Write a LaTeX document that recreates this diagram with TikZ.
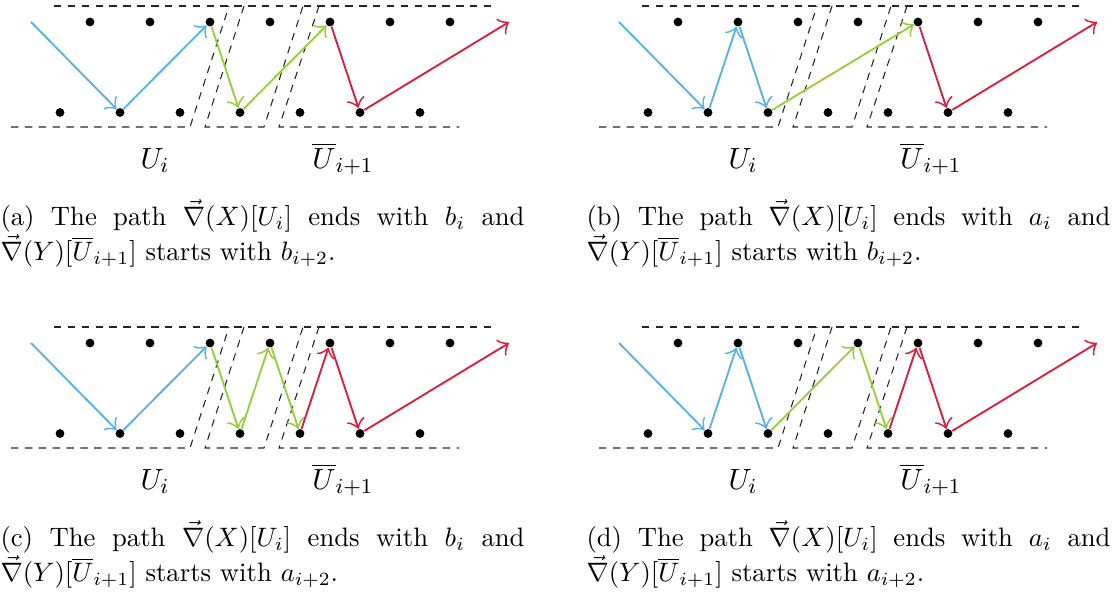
\documentclass[tikz,border=0pt]{standalone}
\usetikzlibrary{arrows.meta}
\definecolor{pblue}{RGB}{86,178,232}
\definecolor{pgreen}{RGB}{150,206,60}
\definecolor{pred}{RGB}{218,30,60}
\tikzset{
  ptdot/.style={circle,fill=black,draw=none,inner sep=0pt,minimum size=3.3pt},
  framedash/.style={line width=0.4pt,black!85,dash pattern=on 2.8pt off 2.4pt},
  arr/.style={line width=0.7pt,-{Classical TikZ Rightarrow[scale=1.5]}},
  lbl/.style={anchor=base,inner sep=0pt,font=\fontsize{11}{13}\selectfont},
  captext/.style={anchor=base west,inner sep=0pt,text width=196.5pt,align=justify,font=\fontsize{10}{12}\selectfont},
}
\newcommand\drawpanel[1]{%
  \draw[framedash] (54,6) -- (495,6);
  \draw[framedash] (11,127) -- (190,127) -- (229,6);
  \draw[framedash] (244,6) -- (205,127) -- (264,127) -- (303,6);
  \draw[framedash] (319,6) -- (279,127) -- (459,127);
  \foreach \k in {0,...,6} {
    \node[ptdot] (#1-t\k) at (90+60*\k,22) {};
    \node[ptdot] (#1-b\k) at (60+60*\k,112.5) {};
  }
  \coordinate (#1-s) at (31,22);
  \coordinate (#1-e) at (509,22);
  \node[lbl] (#1-u) at (155,168) {$U_i$};
  \node[lbl] (#1-ubar) at (343,168) {$\overline{U}_{i+1}$};
}
\begin{document}
\begin{tikzpicture}[x=0.375pt,y=-0.375pt]
\useasboundingbox (0,0) rectangle (1115,594);
% (a)
\begin{scope}
  \drawpanel{a}
  \draw[arr,pblue] (a-s) -- (a-b1);
  \draw[arr,pblue] (a-b1) -- (a-t2);
  \draw[arr,pgreen] (a-t2) -- (a-b3);
  \draw[arr,pgreen] (a-b3) -- (a-t4);
  \draw[arr,pred] (a-t4) -- (a-b5);
  \draw[arr,pred] (a-b5) -- (a-e);
  \node[captext] (a-cap) at (0,225) {\noindent(a) The path $\vec{\nabla}(X)[U_i]$ ends with $b_i$ and\linebreak $\vec{\nabla}(Y)[\overline{U}_{i+1}]$ starts with $b_{i+2}$.};
\end{scope}
% (b)
\begin{scope}[shift={(588,0)}]
  \drawpanel{b}
  \draw[arr,pblue] (b-s) -- (b-b1);
  \draw[arr,pblue] (b-b1) -- (b-t1);
  \draw[arr,pblue] (b-t1) -- (b-b2);
  \draw[arr,pgreen] (b-b2) -- (b-t4);
  \draw[arr,pred] (b-t4) -- (b-b5);
  \draw[arr,pred] (b-b5) -- (b-e);
  \node[captext] (b-cap) at (-2,225) {\noindent(b) The path $\vec{\nabla}(X)[U_i]$ ends with $a_i$ and\linebreak $\vec{\nabla}(Y)[\overline{U}_{i+1}]$ starts with $b_{i+2}$.};
\end{scope}
% (c)
\begin{scope}[shift={(0,321)}]
  \drawpanel{c}
  \draw[arr,pblue] (c-s) -- (c-b1);
  \draw[arr,pblue] (c-b1) -- (c-t2);
  \draw[arr,pgreen] (c-t2) -- (c-b3);
  \draw[arr,pgreen] (c-b3) -- (c-t3);
  \draw[arr,pgreen] (c-t3) -- (c-b4);
  \draw[arr,pred] (c-b4) -- (c-t4);
  \draw[arr,pred] (c-t4) -- (c-b5);
  \draw[arr,pred] (c-b5) -- (c-e);
  \node[captext] (c-cap) at (0,225) {\noindent(c) The path $\vec{\nabla}(X)[U_i]$ ends with $b_i$ and\linebreak $\vec{\nabla}(Y)[\overline{U}_{i+1}]$ starts with $a_{i+2}$.};
\end{scope}
% (d)
\begin{scope}[shift={(588,321)}]
  \drawpanel{d}
  \draw[arr,pblue] (d-s) -- (d-b1);
  \draw[arr,pblue] (d-b1) -- (d-t1);
  \draw[arr,pblue] (d-t1) -- (d-b2);
  \draw[arr,pgreen] (d-b2) -- (d-t3);
  \draw[arr,pgreen] (d-t3) -- (d-b4);
  \draw[arr,pred] (d-b4) -- (d-t4);
  \draw[arr,pred] (d-t4) -- (d-b5);
  \draw[arr,pred] (d-b5) -- (d-e);
  \node[captext] (d-cap) at (-2,225) {\noindent(d) The path $\vec{\nabla}(X)[U_i]$ ends with $a_i$ and\linebreak $\vec{\nabla}(Y)[\overline{U}_{i+1}]$ starts with $a_{i+2}$.};
\end{scope}
\end{tikzpicture}
\end{document}
